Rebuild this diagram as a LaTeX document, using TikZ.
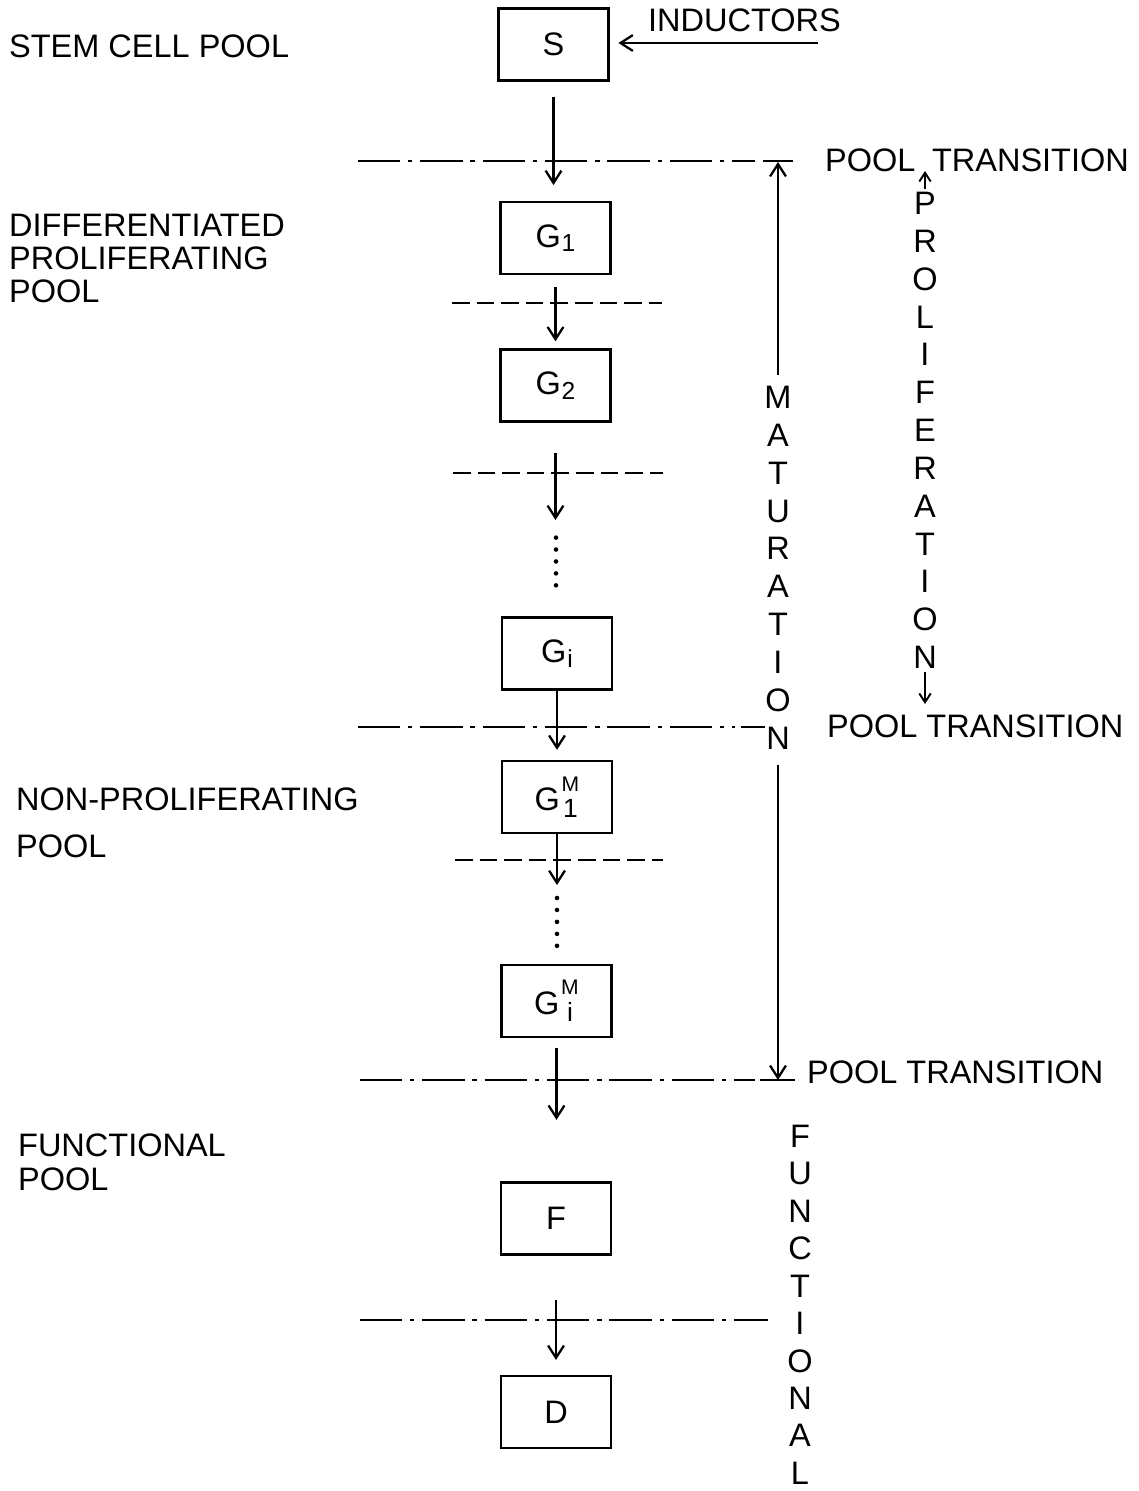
\documentclass[tikz,border=0pt]{standalone}
\usepackage{fontspec}
\setmainfont{Liberation Sans}
\usetikzlibrary{arrows.meta}
\newcommand{\Gsub}[1]{G\kern0.5pt\raisebox{-2.5pt}{\fontsize{14}{14}\selectfont #1}}
\newcommand{\GMsub}[1]{G\kern1pt\raisebox{-4pt}{\shortstack{\fontsize{12}{12}\selectfont M\\[1.5pt]\fontsize{15}{15}\selectfont #1}}}
\begin{document}
\begin{tikzpicture}[x=0.02cm,y=-0.02cm,line width=1.3pt,
  box/.style={draw, line width=1.3pt, minimum width=2.2cm, minimum height=1.44cm, inner sep=0pt, font=\fontsize{18.5}{21}\selectfont},
  lbl/.style={inner sep=0pt, font=\fontsize{18.5}{21}\selectfont},
  vword/.style={inner sep=0pt, align=center, font=\fontsize{18.5}{21.54}\selectfont},
  arr/.style={-{Straight Barb[length=7pt,width=9pt]}, line width=1.3pt},
  smallarr/.style={-{Straight Barb[length=5pt,width=6.5pt]}, line width=1.1pt},
  dashdot/.style={line width=1.3pt, dash pattern=on 24pt off 4.5pt on 2.5pt off 4.5pt},
  dashline/.style={line width=1.3pt, dash pattern=on 10pt off 4pt},
  dotline/.style={line width=2.6pt, line cap=round, dash pattern=on 0pt off 6.8pt}]
\useasboundingbox[fill=white] (0,0) rectangle (1139,1491);

% boxes
\node[box] (S)   at (553.5,44.5) {S};
\node[box] (G1)  at (555.5,238) {\Gsub{1}};
\node[box] (G2)  at (555.5,385.5) {\Gsub{2}};
\node[box] (Gi)  at (557,653.5) {\Gsub{i}};
\node[box] (G1M) at (557,797) {\GMsub{1}};
\node[box] (GiM) at (556.5,1001) {\GMsub{i}};
\node[box] (F)   at (556,1218.5) {F};
\node[box] (D)   at (556,1412) {D};

% left labels
\node[lbl, anchor=north west] (l1) at (8,34) {STEM CELL POOL};
\node[lbl, anchor=north west, align=left, font=\fontsize{18.5}{18.7}\selectfont] (l2) at (8,213) {DIFFERENTIATED\\PROLIFERATING\\POOL};
\node[lbl, anchor=north west, align=left, font=\fontsize{18.5}{26.6}\selectfont] (l3) at (15,787) {NON-PROLIFERATING\\POOL};
\node[lbl, anchor=north west, align=left, font=\fontsize{18.5}{19.3}\selectfont] (l4) at (17,1133) {FUNCTIONAL\\POOL};

% inductors
\node[lbl, anchor=west] (indl) at (647,20) {INDUCTORS};
\coordinate (ind) at (818,43);
\draw[arr, shorten >=5pt] (ind) -- (ind -| S.east);

% pool transition labels
\node[lbl, anchor=west] (pt1a) at (824,160) {POOL};
\node[lbl, anchor=east] (pt1b) at (1130,160) {TRANSITION};
\node[lbl, anchor=west] (pt2) at (826,726) {POOL TRANSITION};
\node[lbl, anchor=west] (pt3) at (806,1072) {POOL TRANSITION};

% transition lines
\draw[dashdot] (358,161) -- (755,161);
\draw (763,161) -- (793,161);
\draw[dashline] (452,303) -- (662,303);
\draw[dashline] (453,473) -- (663,473);
\draw[dashdot] (358,727) -- (735,727);
\draw (741,727) -- (765,727);
\draw[dashline] (455,860) -- (663,860);
\draw[dashdot] (360,1080) -- (755,1080);
\draw (760,1080) -- (795,1080);
\draw[dashdot] (360,1320) -- (768,1320);

% main chain
\draw[arr, shorten <=8.5pt, shorten >=9pt] (S.south) -- (S.south |- G1.north);
\draw[arr, shorten <=6.8pt, shorten >=4pt] (G1.south) -- (G1.south |- G2.north);
\coordinate (c1) at (556,520);
\draw[arr, shorten <=17pt] (G2.south) -- (G2.south |- c1);
\draw[dotline, shorten <=10pt, shorten >=13pt] (c1) -- (c1 |- Gi.north);
\draw[arr, shorten >=5.7pt] (Gi.south) -- (Gi.south |- G1M.north);
\coordinate (c2) at (557,885);
\draw[arr] (G1M.south) -- (G1M.south |- c2);
\draw[dotline, shorten <=7.4pt, shorten >=4pt] (c2) -- (c2 |- GiM.north);
\draw[arr, shorten <=5.7pt, shorten >=35pt] (GiM.south) -- (GiM.south |- F.north);
\draw[arr, shorten <=25.5pt, shorten >=8.5pt] (F.south) -- (F.south |- D.north);

% maturation
\node[vword, anchor=north] (mat) at (778,385) {M\\A\\T\\U\\R\\A\\T\\I\\O\\N};
\coordinate (mtop) at (778,162);
\coordinate (mbot) at (778,1080);
\draw[arr, shorten <=5.7pt] (mat.north) -- (mtop);
\draw[arr, shorten <=8.5pt] (mat.south) -- (mbot);

% proliferation
\node[vword, anchor=north] (prol) at (925,191) {P\\R\\O\\L\\I\\F\\E\\R\\A\\T\\I\\O\\N};
\coordinate (ptop) at (925,171);
\coordinate (pbot) at (925,704);
\draw[smallarr, shorten <=1pt] (prol.north) -- (ptop);
\draw[smallarr, shorten <=1pt] (prol.south) -- (pbot);

% functional
\node[vword, anchor=north, font=\fontsize{18.5}{21.3}\selectfont] (func) at (800,1124) {F\\U\\N\\C\\T\\I\\O\\N\\A\\L};
\end{tikzpicture}
\end{document}
